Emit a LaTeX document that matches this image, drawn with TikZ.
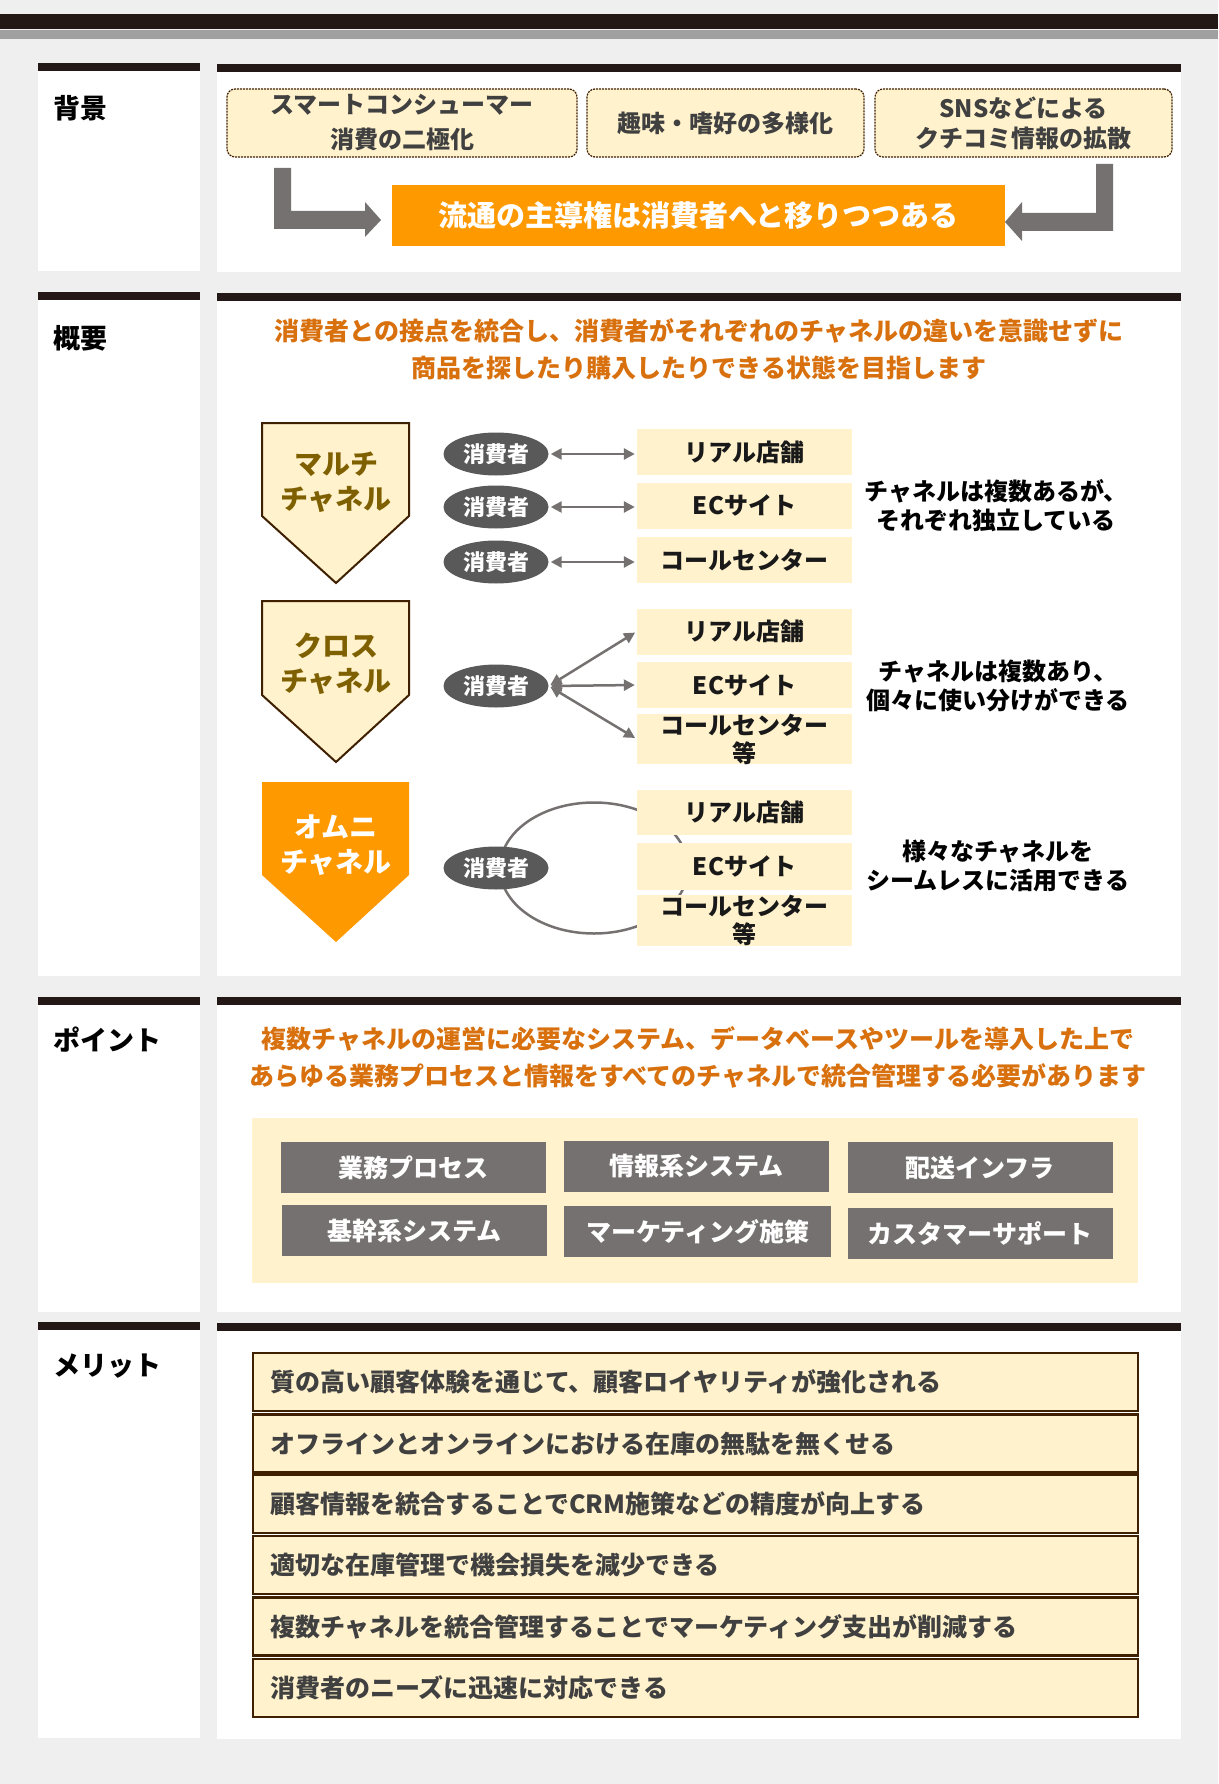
\documentclass[tikz,border=0pt]{standalone}
\usepackage{fontspec}
\setmainfont{Noto Sans CJK JP}
\usetikzlibrary{shapes.geometric,arrows.meta}
\definecolor{bgc}{HTML}{EFEFEF}
\definecolor{darkc}{HTML}{231815}
\definecolor{topgray}{HTML}{A0A0A0}
\definecolor{creamc}{HTML}{FFF2CC}
\definecolor{brownc}{HTML}{3F2000}
\definecolor{olivec}{HTML}{7F6000}
\definecolor{orangeF}{HTML}{FF9900}
\definecolor{orangeT}{HTML}{D8700E}
\definecolor{grayc}{HTML}{767171}
\definecolor{consc}{HTML}{595959}
\definecolor{txtc}{HTML}{404040}
\newcommand\fsz[2]{\fontsize{#1}{#2}\selectfont\bfseries}
\begin{document}
\begin{tikzpicture}[x=1pt,y=-1pt,
  title/.style={anchor=west, inner sep=0, font=\fsz{27}{32}, text=black},
  sbox/.style={draw=brownc, line width=1.2, dash pattern=on 2pt off 1pt, fill=creamc, rounded corners=8, inner sep=0, align=center, font=\fsz{24}{35}, text=txtc, minimum height=68},
  obox/.style={fill=orangeF, text=white, font=\fsz{29}{34}, inner sep=0, minimum width=613, minimum height=61},
  otext/.style={text=orangeT, font=\fsz{25}{37}, align=center, inner sep=0},
  pent/.style={draw=brownc, line width=2, fill=creamc, line join=miter},
  ptext/.style={font=\fsz{28}{35}, align=center, inner sep=0, text=olivec},
  cons/.style={ellipse, fill=consc, text=white, font=\fsz{22}{26}, minimum width=105, minimum height=43, inner sep=0},
  chbox/.style={fill=creamc, font=\fsz{24}{28}, minimum width=215, minimum height=46, inner sep=0, align=center, text=black!90},
  arr/.style={draw=grayc, line width=2.5, {Triangle[length=11pt,width=11pt]}-{Triangle[length=11pt,width=11pt]}, shorten >=2, shorten <=2},
  rtext/.style={font=\fsz{24}{29}, align=center, inner sep=0, text=black},
  gbox/.style={fill=grayc, text=white, font=\fsz{25}{30}, minimum width=265, minimum height=51, inner sep=0},
  mbox/.style={draw=brownc, line width=2.5, fill=creamc, text=txtc, font=\fsz{25}{30}, text width=851, inner xsep=17, inner ysep=0, minimum height=58, align=left}
]
\useasboundingbox (0,0) rectangle (1218,1784);
\fill[bgc] (0,0) rectangle (1218,1784);
% top bands
\fill[darkc] (0,14) rectangle (1218,29);
\fill[topgray] (0,30) rectangle (1218,39);

% section panels
\fill[white] (38,71) rectangle (200,271);
\fill[darkc] (38,63) rectangle (200,71);
\fill[white] (217,72) rectangle (1181,272);
\fill[darkc] (217,64) rectangle (1181,72);

\fill[white] (38,300) rectangle (200,976);
\fill[darkc] (38,292) rectangle (200,300);
\fill[white] (217,301) rectangle (1181,976);
\fill[darkc] (217,293) rectangle (1181,301);

\fill[white] (38,1005) rectangle (200,1312);
\fill[darkc] (38,997) rectangle (200,1005);
\fill[white] (217,1005) rectangle (1181,1312);
\fill[darkc] (217,997) rectangle (1181,1005);

\fill[white] (38,1330) rectangle (200,1738);
\fill[darkc] (38,1322) rectangle (200,1330);
\fill[white] (217,1331) rectangle (1181,1739);
\fill[darkc] (217,1323) rectangle (1181,1331);

% titles
\node[title] (t1) at (53,108) {背景};
\node[title] (t2) at (53,338) {概要};
\node[title] (t3) at (53,1040) {ポイント};
\node[title] (t4) at (53,1366) {メリット};

% section 1
\node[sbox, minimum width=350] (b1) at (402,123) {スマートコンシューマー\\消費の二極化};
\node[sbox, minimum width=277] (b2) at (725.5,123) {趣味・嗜好の多様化};
\node[sbox, minimum width=297, font=\fsz{24}{30}] (b3) at (1023.5,123) {SNSなどによる\\クチコミ情報の拡散};
\node[obox] (ob) at (698.5,215.5) {流通の主導権は消費者へと移りつつある};
\fill[grayc] (274,168) -- (291,168) -- (291,211) -- (365,211) -- (365,202) -- (381,220) -- (365,237) -- (365,229) -- (274,229) -- cycle;
\fill[grayc] (1113,164) -- (1096,164) -- (1096,213) -- (1022,213) -- (1022,202) -- (1005,222) -- (1022,241) -- (1022,231) -- (1113,231) -- cycle;

% section 2
\node[otext] (o2) at (699,349.5) {消費者との接点を統合し、消費者がそれぞれのチャネルの違いを意識せずに\\商品を探したり購入したりできる状態を目指します};

\draw[pent] (262,423) -- (409,423) -- (409,516) -- (336,583) -- (262,516) -- cycle;
\node[ptext] (p1) at (336,482.5) {マルチ\\チャネル};
\draw[pent] (262,601) -- (409,601) -- (409,695) -- (336,762) -- (262,695) -- cycle;
\node[ptext] (p2) at (336,664) {クロス\\チャネル};
\fill[orangeF] (262,782) -- (409,782) -- (409,875) -- (336,942) -- (262,875) -- cycle;
\node[ptext, text=white] (p3) at (336,845.5) {オムニ\\チャネル};

% omni ring behind
\draw[grayc, line width=2.5] (594,868) ellipse [x radius=94, y radius=65.5];

\node[cons] (c1) at (496,454) {消費者};
\node[cons] (c2) at (496,507) {消費者};
\node[cons] (c3) at (496,562) {消費者};
\node[cons] (c4) at (496,686) {消費者};
\node[cons] (c5) at (496,868) {消費者};

\node[chbox] (m1) at (744.5,452) {リアル店舗};
\node[chbox] (m2) at (744.5,505.5) {ECサイト};
\node[chbox] (m3) at (744.5,560) {コールセンター};
\node[chbox] (x1) at (744.5,631.5) {リアル店舗};
\node[chbox] (x2) at (744.5,685) {ECサイト};
\node[chbox, minimum height=44] (x3) at (744.5,739) {コールセンター\\等};
\node[chbox, minimum height=45] (n1) at (744.5,812.5) {リアル店舗};
\node[chbox, minimum height=47] (n2) at (744.5,866.5) {ECサイト};
\node[chbox, minimum height=45] (n3) at (744.5,920.5) {コールセンター\\等};

\draw[arr] (c1.east) -- (c1.east -| m1.west);
\draw[arr] (c2.east) -- (c2.east -| m2.west);
\draw[arr] (c3.east) -- (c3.east -| m3.west);
\draw[arr] (c4.east) -- (x1.west);
\draw[arr] (c4.east) -- (x2.west);
\draw[arr] (c4.east) -- (x3.west);

\node[rtext] (r1) at (996,506) {チャネルは複数あるが、\\それぞれ独立している};
\node[rtext] (r2) at (998,685.5) {チャネルは複数あり、\\個々に使い分けができる};
\node[rtext] (r3) at (998,866) {様々なチャネルを\\シームレスに活用できる};

% section 3
\node[otext] (o3) at (698,1057.5) {複数チャネルの運営に必要なシステム、データベースやツールを導入した上で\\あらゆる業務プロセスと情報をすべてのチャネルで統合管理する必要があります};
\node[fill=creamc, minimum width=886, minimum height=165, inner sep=0] (pb) at (695,1200.5) {};
\node[gbox] (g1) at (413.5,1167.5) {業務プロセス};
\node[gbox] (g2) at (696.5,1166.5) {情報系システム};
\node[gbox] (g3) at (980,1167.5) {配送インフラ};
\node[gbox] (g4) at (414.5,1230.5) {基幹系システム};
\node[gbox, minimum width=267] (g5) at (697.5,1231.5) {マーケティング施策};
\node[gbox] (g6) at (980,1233.5) {カスタマーサポート};

% section 4
\node[mbox] (k1) at (695.5,1382) {質の高い顧客体験を通じて、顧客ロイヤリティが強化される};
\node[mbox] (k2) at (695.5,1443.5) {オフラインとオンラインにおける在庫の無駄を無くせる};
\node[mbox] (k3) at (695.5,1504) {顧客情報を統合することでCRM施策などの精度が向上する};
\node[mbox] (k4) at (695.5,1565) {適切な在庫管理で機会損失を減少できる};
\node[mbox] (k5) at (695.5,1626.5) {複数チャネルを統合管理することでマーケティング支出が削減する};
\node[mbox] (k6) at (695.5,1688) {消費者のニーズに迅速に対応できる};
\end{tikzpicture}
\end{document}
